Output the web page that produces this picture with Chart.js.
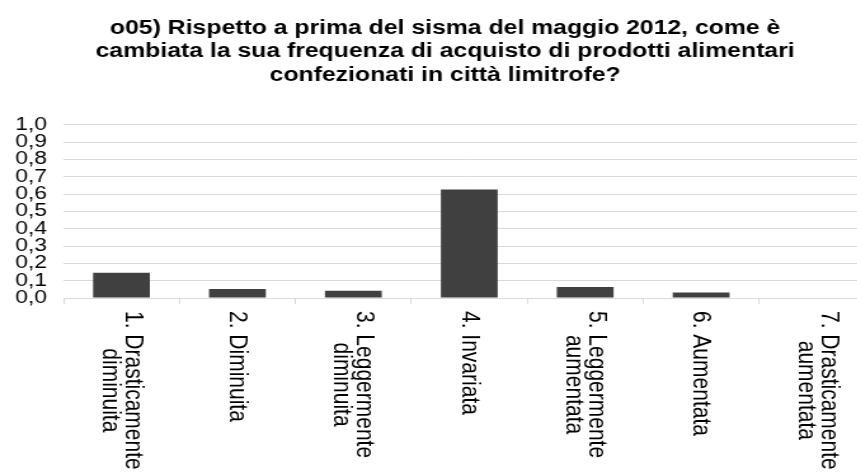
<!DOCTYPE html>
<html>
<head>
<meta charset="utf-8">
<script src="https://cdn.jsdelivr.net/npm/chart.js@4"></script>
<style>
  html, body { margin: 0; padding: 0; background: #fff; overflow: hidden; }
  /* the original picture is an Excel chart stretched sideways */
  #wrap { width: 689px; height: 476px; transform: scaleX(1.27); transform-origin: 0 0; }
</style>
</head>
<body>
<div id="wrap"><canvas id="myChart" width="689" height="476"></canvas></div>
<script>
const titleLines = [
    'o05) Rispetto a prima del sisma del maggio 2012, come è',
    'cambiata la sua frequenza di acquisto di prodotti alimentari',
    'confezionati in città limitrofe?'
];
const categories = [
    ['1. Drasticamente', 'diminuita'],
    ['2. Diminuita'],
    ['3. Leggermente', 'diminuita'],
    ['4. Invariata'],
    ['5. Leggermente', 'aumentata'],
    ['6. Aumentata'],
    ['7. Drasticamente', 'aumentata']
];
const values = [0.146, 0.052, 0.042, 0.627, 0.063, 0.032, 0];
const yTickLabels = ['0,0', '0,1', '0,2', '0,3', '0,4', '0,5', '0,6', '0,7', '0,8', '0,9', '1,0'];

const fontFamily = '"Liberation Sans", Arial, sans-serif';

// x labels read top to bottom, so they are drawn here instead of by the axis
const verticalLabels = {
    id: 'verticalLabels',
    afterDraw(chart) {
        const ctx = chart.ctx;
        const xScale = chart.scales.x;
        const lineGap = 18;
        ctx.save();
        ctx.font = '21px ' + fontFamily;
        ctx.fillStyle = '#000';
        ctx.textAlign = 'center';
        ctx.textBaseline = 'middle';
        categories.forEach((lines, i) => {
            const x = xScale.getPixelForValue(i);
            const widest = Math.max(...lines.map(l => ctx.measureText(l).width));
            const top = chart.chartArea.bottom + 13;
            lines.forEach((line, k) => {
                ctx.save();
                ctx.translate(x - (k - (lines.length - 1) / 2) * lineGap, top + widest / 2);
                ctx.rotate(Math.PI / 2);
                ctx.fillText(line, 0, 0);
                ctx.restore();
            });
        });
        ctx.restore();
    }
};

const ctx = document.getElementById('myChart');

const myChart = new Chart(ctx, {
    type: 'bar',
    data: {
        labels: categories,
        datasets: [{
            data: values,
            backgroundColor: '#404040',
            categoryPercentage: 1,
            barPercentage: 0.49,
        }],
    },
    options: {
        responsive: false,
        animation: false,
        layout: {
            padding: { left: 12, right: 0, top: 0, bottom: 172 }
        },
        plugins: {
            legend: { display: false },
            tooltip: { enabled: false },
            title: {
                display: true,
                text: titleLines,
                color: '#000',
                font: { family: fontFamily, size: 19.5, weight: 'bold', lineHeight: 1.21 },
                padding: { top: 16.5, bottom: 37.5 }
            }
        },
        scales: {
            x: {
                grid: {
                    drawOnChartArea: false,
                    drawTicks: true,
                    tickLength: 6,
                    color: '#d9d9d9',
                    offset: true
                },
                border: { color: '#d9d9d9', width: 1 },
                ticks: { display: false }
            },
            y: {
                min: 0,
                max: 1,
                afterFit(scale) { scale.width = 38; },
                grid: { color: '#d9d9d9', lineWidth: 1, drawTicks: false },
                border: { display: false },
                ticks: {
                    stepSize: 0.1,
                    autoSkip: false,
                    padding: 13,
                    color: '#000',
                    font: { family: fontFamily, size: 18, lineHeight: 1.1 },
                    callback: (value, index) => yTickLabels[index]
                }
            }
        }
    },
    plugins: [verticalLabels]
});
</script>
</body>
</html>
